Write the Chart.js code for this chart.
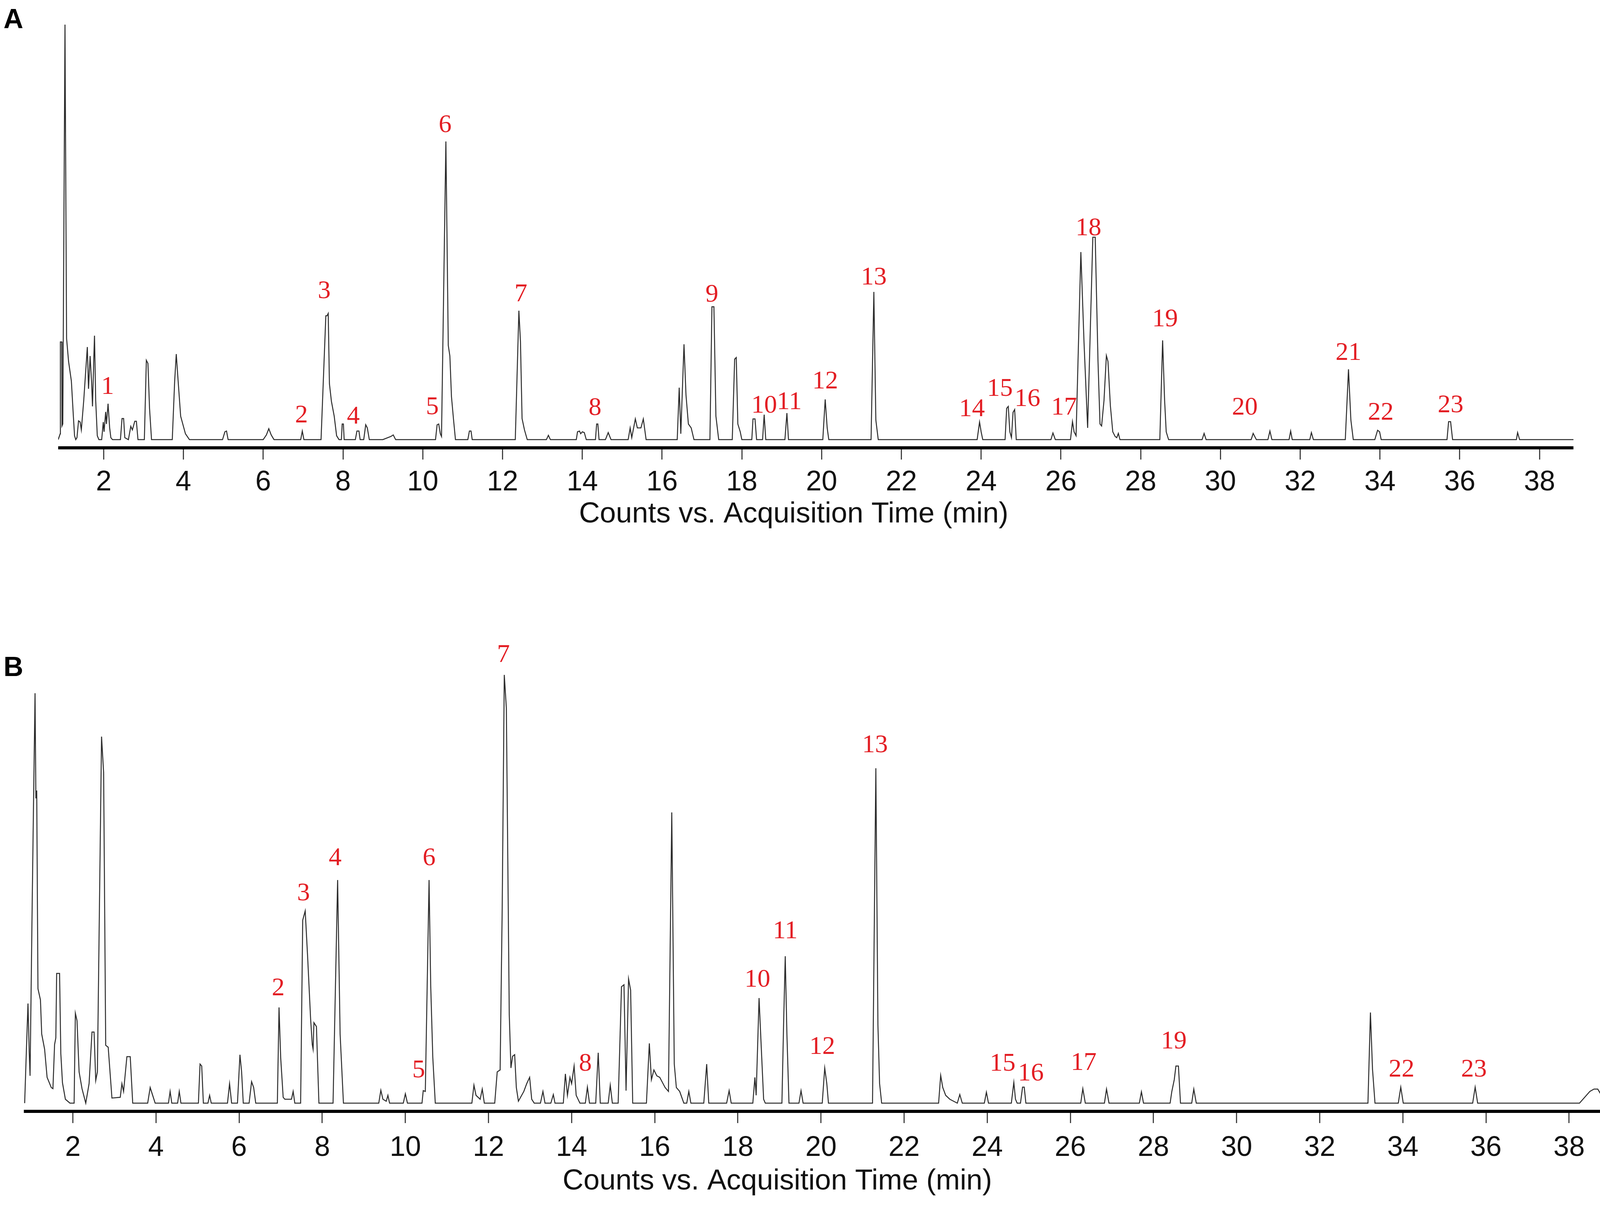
<!DOCTYPE html>
<html>
<head>
<meta charset="utf-8">
<title>Chromatograms A and B</title>
<script src="https://cdn.jsdelivr.net/npm/chart.js@4.4.0/dist/chart.umd.min.js"></script>
<style>
    html, body {
        margin: 0;
        padding: 0;
        background: #fff;
    }
    body {
        position: relative;
        width: 4118px;
        height: 3099px;
        overflow: hidden;
    }
    .panel-tag {
        position: absolute;
        left: 9px;
        font: bold 70px "Liberation Sans", Arial, sans-serif;
        line-height: 70px;
        color: #000;
    }
    .chart-box {
        position: absolute;
    }
</style>
</head>
<body>

<div class="panel-tag" style="top: 13px;">A</div>
<div class="panel-tag" style="top: 1671px;">B</div>

<div class="chart-box" id="boxA" style="left: 149px; top: 20px; width: 3879px; height: 1344px;">
    <canvas id="chartA"></canvas>
</div>
<div class="chart-box" id="boxB" style="left: 61px; top: 1640px; width: 4041px; height: 1433px;">
    <canvas id="chartB"></canvas>
</div>

<script>
// ===== DATA =====
const xTickValues = [2, 4, 6, 8, 10, 12, 14, 16, 18, 20, 22, 24, 26, 28, 30, 32, 34, 36, 38];
const axisCaption = 'Counts vs. Acquisition Time (min)';

// trace A: [time (min), counts]
const traceA = [
    [0.86, 0], [0.91, 15], [0.915, 250], [0.95, 250], [0.955, 35], [0.975, 40], [1.03, 1062], [1.07, 259],
    [1.12, 200], [1.19, 150], [1.24, 60], [1.27, 10], [1.3, 0],
    [1.33, 5], [1.37, 48], [1.41, 45], [1.44, 25], [1.5, 100], [1.59, 237], [1.62, 130], [1.66, 214],
    [1.7, 140], [1.72, 85], [1.75, 200], [1.77, 266], [1.8, 100], [1.84, 10], [1.88, 0],
    [1.95, 0], [1.99, 45], [2.01, 20], [2.05, 71], [2.07, 40], [2.11, 92], [2.15, 30], [2.18, 5], [2.22, 0],
    [2.42, 0], [2.46, 54], [2.5, 54], [2.53, 5], [2.62, 0], [2.68, 34], [2.72, 25], [2.78, 47], [2.82, 47], [2.86, 0],
    [3.02, 0], [3.07, 203], [3.11, 195], [3.15, 80], [3.2, 0],
    [3.72, 0], [3.78, 150], [3.82, 219], [3.86, 160], [3.93, 60], [4.05, 15], [4.15, 0],
    [4.98, 0], [5.04, 20], [5.08, 22], [5.12, 0],
    [6.0, 0], [6.08, 12], [6.14, 28], [6.2, 12], [6.27, 0],
    [6.94, 0], [6.98, 22], [7.02, 0],
    [7.45, 0], [7.57, 317], [7.6, 317], [7.63, 323], [7.66, 143], [7.71, 98], [7.78, 60], [7.84, 10], [7.9, 0],
    [7.96, 0], [7.98, 40], [8.01, 40], [8.03, 0],
    [8.31, 0], [8.35, 22], [8.4, 22], [8.43, 0],
    [8.52, 0], [8.57, 38], [8.61, 30], [8.66, 0],
    [9.0, 0], [9.2, 8], [9.26, 12], [9.32, 0],
    [10.32, 0], [10.36, 38], [10.4, 40], [10.44, 15], [10.47, 8], [10.58, 763], [10.64, 241], [10.68, 214],
    [10.72, 110], [10.77, 53], [10.82, 0],
    [11.13, 0], [11.17, 22], [11.21, 22], [11.24, 0],
    [12.32, 0], [12.41, 330], [12.45, 250], [12.49, 54], [12.55, 25], [12.62, 0],
    [13.1, 0], [13.15, 11], [13.2, 0],
    [13.85, 0], [13.88, 20], [13.93, 22], [13.96, 15], [14.0, 20], [14.05, 18], [14.1, 0],
    [14.33, 0], [14.36, 40], [14.39, 40], [14.42, 0],
    [14.58, 0], [14.65, 18], [14.72, 0],
    [15.15, 0], [15.2, 30], [15.24, 5], [15.33, 53], [15.38, 30], [15.47, 30], [15.53, 53], [15.6, 0],
    [16.38, 0], [16.43, 133], [16.47, 15], [16.55, 244], [16.6, 114], [16.66, 40], [16.73, 30], [16.8, 0],
    [17.2, 0], [17.25, 340], [17.3, 340], [17.35, 60], [17.42, 0],
    [17.76, 0], [17.82, 206], [17.86, 210], [17.9, 40], [17.96, 20], [18.0, 0],
    [18.25, 0], [18.28, 53], [18.33, 53], [18.37, 0], [18.52, 0], [18.56, 64], [18.6, 0],
    [19.08, 0], [19.13, 68], [19.17, 0],
    [20.03, 0], [20.09, 103], [20.14, 30], [20.18, 0],
    [21.24, 0], [21.31, 378], [21.36, 50], [21.42, 0],
    [23.9, 0], [23.96, 45], [24.0, 20], [24.04, 0],
    [24.6, 0], [24.64, 80], [24.68, 85], [24.72, 20], [24.76, 5], [24.8, 70], [24.84, 77], [24.88, 0],
    [25.75, 0], [25.8, 17], [25.86, 0],
    [26.24, 0], [26.29, 46], [26.33, 20], [26.38, 10], [26.5, 480], [26.58, 247], [26.67, 30], [26.8, 518],
    [26.86, 518], [26.93, 200], [26.98, 40], [27.02, 35], [27.08, 100], [27.14, 215], [27.18, 200], [27.24, 87],
    [27.3, 20], [27.36, 8], [27.4, 5], [27.44, 16], [27.48, 0],
    [28.48, 0], [28.55, 254], [28.6, 100], [28.64, 20], [28.7, 0],
    [29.54, 0], [29.59, 16], [29.64, 0],
    [30.77, 0], [30.82, 16], [30.9, 0],
    [31.19, 0], [31.24, 22], [31.29, 0],
    [31.72, 0], [31.76, 22], [31.8, 0],
    [32.24, 0], [32.28, 18], [32.33, 0],
    [33.13, 0], [33.21, 180], [33.27, 50], [33.33, 0],
    [33.87, 0], [33.94, 24], [33.99, 20], [34.03, 0],
    [35.68, 0], [35.72, 46], [35.77, 46], [35.82, 0],
    [37.42, 0], [37.45, 18], [37.5, 0],
    [38.85, 0]
];

// trace B
const traceB = [
    [0.84, 0], [0.88, 130], [0.92, 255], [0.95, 130], [0.97, 70], [1.02, 500], [1.05, 740], [1.09, 1049],
    [1.11, 780], [1.13, 800], [1.16, 293], [1.22, 264], [1.25, 177], [1.32, 138], [1.38, 66], [1.48, 40],
    [1.52, 37], [1.56, 150], [1.59, 167], [1.61, 332], [1.68, 332], [1.71, 127], [1.75, 52], [1.82, 10], [1.93, 0],
    [2.03, 0], [2.06, 230], [2.1, 211], [2.15, 80], [2.22, 37], [2.31, 0], [2.39, 50], [2.46, 182], [2.51, 182],
    [2.55, 58], [2.59, 80], [2.69, 938], [2.74, 846], [2.79, 148], [2.85, 143], [2.94, 13], [3.14, 15],
    [3.18, 50], [3.22, 30], [3.3, 119], [3.38, 119], [3.44, 0],
    [3.8, 0], [3.86, 40], [3.92, 20], [3.98, 0], [4.3, 0], [4.34, 30], [4.38, 0], [4.52, 0], [4.56, 30], [4.6, 0],
    [5.02, 0], [5.06, 100], [5.1, 95], [5.14, 0], [5.25, 0], [5.29, 20], [5.33, 0], [5.72, 0], [5.77, 50],
    [5.82, 0], [5.96, 0], [6.02, 124], [6.06, 80], [6.1, 0], [6.24, 0], [6.3, 55], [6.35, 40], [6.4, 0],
    [6.92, 0], [6.96, 245], [7.0, 117], [7.06, 15], [7.1, 10], [7.26, 10], [7.3, 30], [7.34, 0],
    [7.48, 0], [7.53, 468], [7.59, 492], [7.65, 371], [7.72, 216], [7.76, 150], [7.78, 138], [7.8, 206],
    [7.86, 196], [7.92, 0],
    [8.26, 0], [8.37, 571], [8.43, 177], [8.51, 0],
    [9.36, 0], [9.41, 33], [9.46, 10], [9.54, 5], [9.58, 20], [9.62, 0], [9.95, 0], [10.0, 24], [10.05, 0],
    [10.4, 0], [10.43, 32], [10.48, 30], [10.57, 571], [10.61, 300], [10.66, 117], [10.72, 0],
    [11.6, 0], [11.65, 46], [11.7, 20], [11.8, 10], [11.85, 36], [11.9, 0],
    [12.15, 0], [12.21, 80], [12.28, 85], [12.33, 500], [12.38, 1096], [12.43, 1011], [12.5, 226], [12.54, 90],
    [12.58, 120], [12.63, 124], [12.67, 40], [12.72, 5], [12.85, 30], [12.92, 50], [12.99, 66], [13.04, 10], [13.1, 0],
    [13.25, 0], [13.31, 30], [13.36, 0], [13.5, 0], [13.56, 22], [13.6, 0],
    [13.8, 0], [13.85, 75], [13.9, 20], [13.96, 66], [14.0, 50], [14.06, 95], [14.11, 20], [14.2, 0],
    [14.33, 0], [14.38, 41], [14.43, 0], [14.58, 0], [14.64, 129], [14.69, 0], [14.88, 0], [14.93, 46], [14.98, 0],
    [15.12, 0], [15.2, 298], [15.26, 303], [15.31, 32], [15.37, 318], [15.42, 289], [15.47, 0],
    [15.8, 0], [15.87, 153], [15.92, 60], [15.98, 85], [16.05, 70], [16.12, 66], [16.2, 50], [16.25, 40],
    [16.33, 30], [16.41, 744], [16.47, 100], [16.52, 40], [16.6, 30], [16.7, 0],
    [16.77, 0], [16.82, 30], [16.87, 0],
    [17.18, 0], [17.25, 100], [17.3, 0],
    [17.73, 0], [17.79, 32], [17.84, 0],
    [18.36, 0], [18.41, 66], [18.44, 20], [18.51, 269], [18.56, 150], [18.62, 10], [18.66, 0],
    [19.06, 0], [19.1, 200], [19.14, 376], [19.18, 177], [19.23, 0],
    [19.47, 0], [19.52, 32], [19.57, 0],
    [20.03, 0], [20.09, 90], [20.14, 50], [20.18, 0],
    [21.24, 0], [21.32, 857], [21.37, 200], [21.41, 50], [21.46, 0],
    [22.83, 0], [22.88, 71], [22.93, 40], [23.0, 20], [23.1, 10], [23.28, 0], [23.34, 22], [23.4, 0],
    [23.93, 0], [23.98, 28], [24.03, 0],
    [24.58, 0], [24.64, 53], [24.68, 10], [24.72, 0], [24.8, 0], [24.85, 41], [24.89, 41], [24.93, 0],
    [26.25, 0], [26.3, 37], [26.36, 0], [26.82, 0], [26.87, 36], [26.93, 0], [27.66, 0], [27.71, 29], [27.76, 0],
    [28.4, 0], [28.44, 29], [28.5, 60], [28.54, 95], [28.6, 95], [28.65, 0],
    [28.92, 0], [28.97, 36], [29.03, 0],
    [33.16, 0], [33.22, 232], [33.27, 87], [33.33, 0],
    [33.89, 0], [33.95, 41], [34.01, 0],
    [35.68, 0], [35.74, 41], [35.8, 0],
    [38.25, 0], [38.5, 30], [38.6, 36], [38.69, 36], [38.8, 16]
];

// numbered compounds: name, time (min) and height of the label
const peakNamesA = ['1', '2', '3', '4', '5', '6', '7', '8', '9', '10', '11', '12',
                    '13', '14', '15', '16', '17', '18', '19', '20', '21', '22', '23'];
const peakTimesA = [2.10, 6.96, 7.53, 8.26, 10.24, 10.56, 12.46, 14.32, 17.25, 18.56, 19.19, 20.09,
                    21.31, 23.77, 24.47, 25.16, 26.08, 26.69, 28.61, 30.61, 33.21, 34.02, 35.77];
const peakLabelYA = [134, 61, 379, 58, 82, 804, 371, 80, 370, 86, 95, 148,
                     414, 77, 129, 103, 81, 540, 307, 81, 221, 68, 87];

const peakNamesB = ['2', '3', '4', '5', '6', '7', '8', '10', '11', '12', '13', '15', '16', '17', '19', '22', '23'];
const peakTimesB = [6.94, 7.55, 8.31, 10.32, 10.57, 12.36, 14.33, 18.47, 19.14, 20.03, 21.3, 24.37,
                    25.05, 26.32, 28.49, 33.97, 35.71];
const peakLabelYB = [293, 536, 626, 83, 626, 1146, 100, 315, 439, 143, 915, 100, 75, 102, 157, 85, 85];

// ===== PLUGIN: red peak numbers + axis caption =====
const peakLabels = {
    id: 'peakLabels',
    afterDatasetsDraw(chart, args, opts) {
        const { ctx, scales: { x, y } } = chart;
        ctx.save();
        ctx.font = '66px "Liberation Serif", "Times New Roman", serif';
        ctx.fillStyle = '#e31e24';
        ctx.textAlign = 'center';
        ctx.textBaseline = 'middle';
        opts.names.forEach((name, i) => {
            ctx.fillText(name, x.getPixelForValue(opts.times[i]), y.getPixelForValue(opts.heights[i]));
        });

        ctx.font = '74px "Liberation Sans", Arial, sans-serif';
        ctx.fillStyle = '#111';
        ctx.fillText(opts.caption, x.getPixelForValue(opts.captionAt), chart.chartArea.bottom + opts.captionOffset);
        ctx.restore();
    }
};

// ===== CHARTS =====
function buildChromatogram(canvasId, trace, cfg) {
    const ctx = document.getElementById(canvasId).getContext('2d');
    return new Chart(ctx, {
        type: 'line',
        data: {
            datasets: [{
                data: trace.map(p => ({ x: p[0], y: p[1] })),
                borderColor: '#2a2a2a',
                borderWidth: 2.5,
                pointRadius: 0,
                tension: 0,
                fill: false
            }]
        },
        options: {
            responsive: true,
            maintainAspectRatio: false,
            animation: false,
            devicePixelRatio: 1,
            layout: { padding: { left: 0, right: 0, top: 0, bottom: 70 } },
            plugins: {
                legend: { display: false },
                tooltip: { enabled: false },
                peakLabels: {
                    names: cfg.names,
                    times: cfg.times,
                    heights: cfg.heights,
                    caption: axisCaption,
                    captionAt: cfg.captionAt,
                    captionOffset: cfg.captionOffset
                }
            },
            scales: {
                x: {
                    type: 'linear',
                    min: cfg.xMin,
                    max: cfg.xMax,
                    afterBuildTicks: scale => {
                        scale.ticks = xTickValues.map(v => ({ value: v }));
                    },
                    border: { display: true, color: '#000', width: 8 },
                    grid: {
                        display: true,
                        drawOnChartArea: false,
                        drawTicks: true,
                        tickLength: 30,
                        tickWidth: 3,
                        tickColor: '#444'
                    },
                    ticks: {
                        padding: cfg.tickPad,
                        color: '#111',
                        maxRotation: 0,
                        autoSkip: false,
                        font: { family: '"Liberation Sans", Arial, sans-serif', size: 72, lineHeight: 1 },
                        callback: v => String(v)
                    }
                },
                y: {
                    display: false,
                    min: cfg.yMin,
                    max: cfg.yMax
                }
            }
        },
        plugins: [peakLabels]
    });
}

function init() {
    buildChromatogram('chartA', traceA, {
        xMin: 0.86, xMax: 38.85,
        yMin: -21, yMax: 1105,
        tickPad: 23,
        captionAt: 19.3, captionOffset: 170.5,
        names: peakNamesA, times: peakTimesA, heights: peakLabelYA
    });
    buildChromatogram('chartB', traceB, {
        xMin: 0.82, xMax: 38.8,
        yMin: -21, yMax: 1183,
        tickPad: 28.5,
        captionAt: 18.95, captionOffset: 179.5,
        names: peakNamesB, times: peakTimesB, heights: peakLabelYB
    });
}

init();
</script>
</body>
</html>
